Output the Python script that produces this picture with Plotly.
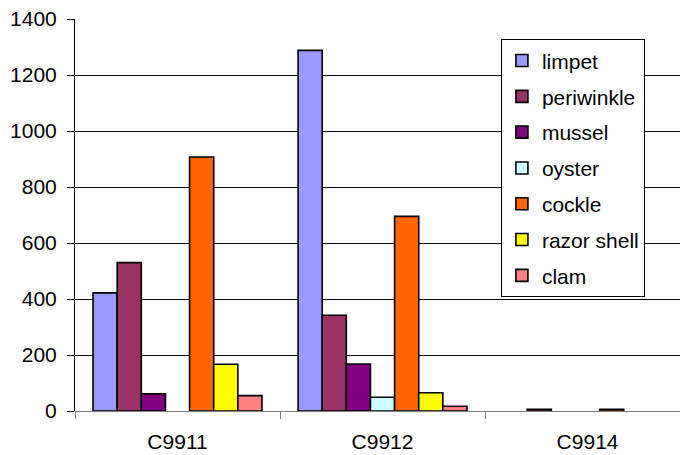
import plotly.graph_objects as go

# Shell counts by context
contexts = ["C9911", "C9912", "C9914"]
species = ["limpet", "periwinkle", "mussel", "oyster", "cockle", "razor shell", "clam"]
limpet = [422, 1288, 0]
periwinkle = [530, 342, 6]
mussel = [61, 168, 0]
oyster = [0, 49, 0]
cockle = [907, 695, 6]
razor_shell = [167, 65, 0]
clam = [55, 17, 0]
y_ticks = [0, 200, 400, 600, 800, 1000, 1200, 1400]

series = [limpet, periwinkle, mussel, oyster, cockle, razor_shell, clam]
colors = ["#9999FF", "#993366", "#800080", "#CCFFFF", "#FF6600", "#FFFF00", "#FF8080"]

FONT = "Liberation Sans, Arial, sans-serif"

fig = go.Figure()
for name, vals, col in zip(species, series, colors):
    # zero counts are left empty so no outline is drawn on the baseline
    fig.add_trace(go.Bar(
        name=name, x=contexts, y=[v if v else None for v in vals], legendgroup=name,
        marker=dict(color=col, line=dict(color="black", width=1.6)),
    ))

fig.update_layout(
    width=680, height=455,
    margin=dict(l=75, r=0, t=19, b=44),
    paper_bgcolor="white", plot_bgcolor="white",
    barmode="group", bargap=0.176, bargroupgap=0,
    font=dict(family=FONT, size=20, color="black"),
    showlegend=True,
    legend=dict(
        x=0.704, y=0.948, xanchor="left", yanchor="top",
        bgcolor="white", bordercolor="black", borderwidth=1,
        font=dict(family=FONT, size=21, color="black"),
        tracegroupgap=5.5, itemwidth=30,
    ),
    xaxis=dict(
        range=[-0.5, 2.451], type="category",
        showline=True, linecolor="#808080", linewidth=1,
        ticks="outside", tickson="boundaries", ticklen=7, tickcolor="#808080",
        showgrid=False, tickfont=dict(size=21), ticklabelstandoff=12,
    ),
    yaxis=dict(
        range=[0, 1400], tickvals=y_ticks,
        showline=True, linecolor="black", linewidth=1,
        ticks="outside", ticklen=7, tickcolor="black",
        showgrid=True, gridcolor="black", gridwidth=1,
        zeroline=False, tickfont=dict(size=21), ticklabelstandoff=6,
    ),
)

fig.write_html("out.html")
